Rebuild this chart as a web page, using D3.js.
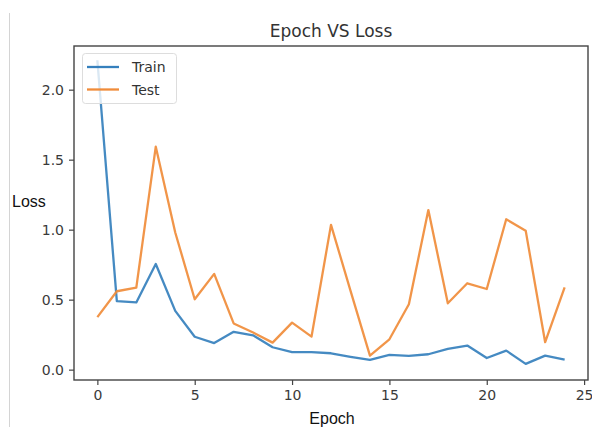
<!DOCTYPE html>
<html><head><meta charset="utf-8">
<script src="https://cdn.jsdelivr.net/npm/d3@7"></script>
<style>body{margin:0;background:#fff}svg{display:block}</style>
</head><body>
<script>
const epochs = d3.range(0, 25);
const trainLoss = [2.21,0.49,0.48,0.755,0.42,0.235,0.19,0.27,0.245,0.16,0.125,0.125,0.117,0.092,0.07,0.105,0.098,0.11,0.148,0.172,0.083,0.136,0.041,0.10,0.072];
const testLoss  = [0.375,0.56,0.586,1.593,0.98,0.503,0.684,0.33,0.265,0.193,0.336,0.236,1.034,0.565,0.10,0.217,0.467,1.14,0.474,0.617,0.576,1.074,0.993,0.196,0.588];
const xTicks = [0,5,10,15,20,25];
const yTicks = [0.0,0.5,1.0,1.5,2.0];
const seriesNames = ["Train","Test"];
const colors = ["#3580bd","#f08c3a"];

const W=592,H=427;
const m={l:74,r:4,t:46,b:47};
const svg=d3.select("body").append("svg").attr("width",W).attr("height",H);
svg.append("line").attr("x1",9.5).attr("x2",9.5).attr("y1",13).attr("y2",H).attr("stroke","#d4d4d4").attr("stroke-width",1);

const x=d3.scaleLinear().domain([-1.2,25.2]).range([m.l,W-m.r]);
const y=d3.scaleLinear().domain([-0.074,2.312]).range([H-m.b,m.t]);

const g=svg.append("g");
const line=d3.line().x((d,i)=>x(epochs[i])).y(d=>y(d));
[trainLoss,testLoss].forEach((s,k)=>{
  g.append("path").datum(s).attr("d",line).attr("fill","none")
   .attr("stroke",colors[k]).attr("stroke-width",2.3).attr("stroke-linejoin","round").attr("opacity",0.92);
});

// frame
svg.append("rect").attr("x",m.l).attr("y",m.t).attr("width",W-m.r-m.l).attr("height",H-m.b-m.t)
 .attr("fill","none").attr("stroke","#444").attr("stroke-width",1.4);

const xa=svg.append("g").attr("transform",`translate(0,${H-m.b})`)
 .call(d3.axisBottom(x).tickValues(xTicks).tickFormat(d3.format("d")).tickSize(5).tickPadding(5));
const ya=svg.append("g").attr("transform",`translate(${m.l},0)`)
 .call(d3.axisLeft(y).tickValues(yTicks).tickFormat(d3.format(".1f")).tickSize(5).tickPadding(5));
[xa,ya].forEach(a=>{
  a.select(".domain").remove();
  a.selectAll("line").attr("stroke","#444").attr("stroke-width",1.2);
  a.selectAll("text").attr("fill","#3a3a3a").style("font-family","DejaVu Sans").style("font-size","14px");
});

svg.append("text").attr("x",(m.l+W-m.r)/2).attr("y",37).attr("text-anchor","middle")
 .style("font-family","DejaVu Sans").style("font-size","17px").attr("fill","#333").text("Epoch VS Loss");
svg.append("text").attr("x",332).attr("y",424).attr("text-anchor","middle")
 .style("font-family","Liberation Sans").style("font-size","16px").attr("fill","#111").text("Epoch");
svg.append("text").attr("x",12).attr("y",207)
 .style("font-family","Liberation Sans").style("font-size","16px").attr("fill","#111").text("Loss");

// legend
const lg=svg.append("g");
lg.append("rect").attr("x",82.5).attr("y",53.5).attr("width",94).attr("height",50).attr("rx",3)
 .attr("fill","#fff").attr("fill-opacity",0.8).attr("stroke","#ddd");
seriesNames.forEach((n,k)=>{
  const yy=67+k*22.5;
  lg.append("line").attr("x1",87).attr("x2",119).attr("y1",yy).attr("y2",yy).attr("stroke",colors[k]).attr("stroke-width",2.3);
  lg.append("text").attr("x",132).attr("y",yy+5).style("font-family","DejaVu Sans").style("font-size","14px").attr("fill","#333").text(n);
});
</script>
</body></html>
